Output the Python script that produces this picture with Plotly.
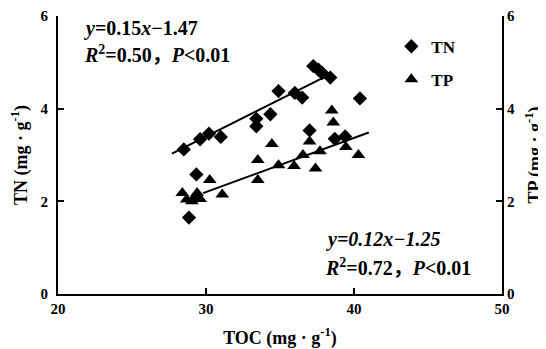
import plotly.graph_objects as go
import numpy as np

# TN (left axis) data
tn_x = [28.5, 29.6, 30.2, 31.0, 33.4, 33.4, 34.35, 34.9, 36.0, 36.5, 37.25, 37.6, 37.85, 38.4, 40.4, 37.0, 38.7, 39.4, 29.35, 28.85]
tn_y = [3.12, 3.34, 3.46, 3.39, 3.78, 3.62, 3.88, 4.38, 4.34, 4.24, 4.92, 4.84, 4.77, 4.67, 4.22, 3.53, 3.35, 3.40, 2.58, 1.65]

# TP (right axis) data
tp_x = [28.4, 28.7, 29.05, 29.2, 29.4, 29.6, 30.25, 31.1, 33.5, 33.5, 34.45, 34.9, 35.95, 36.55, 37.0, 37.4, 37.7, 38.5, 38.6, 39.45, 40.3]
tp_y = [2.18, 2.04, 2.00, 2.08, 2.18, 2.05, 2.46, 2.15, 2.89, 2.46, 3.24, 2.78, 2.76, 3.00, 3.29, 2.71, 3.08, 3.96, 3.70, 3.17, 3.00]

# fitted lines as drawn (slope, intercept, x-range)
tn_fit = dict(slope=0.160, intercept=-1.40, x=[27.7, 38.1])
tp_fit = dict(slope=0.117, intercept=-1.31, x=[29.8, 41.0])

x_ticks = [20, 30, 40, 50]
y_ticks = [0, 2, 4, 6]

FONT = "Liberation Serif, Noto Sans CJK SC"

# page has an 8px body margin; figure is sized to fit the window
OFF = 8
W, H = 546 - OFF, 349 - OFF
PL, PR, PT, PB = 57.5 - OFF, 501.7 - OFF, 16 - OFF, 294.3 - OFF
PW, PH = PR - PL, PB - PT

def px(xp):
    return (xp - OFF - PL) / PW

def py(yp):
    return 1 - (yp - OFF - PT) / PH

fig = go.Figure()

def fit_line(f):
    xs = np.array(f["x"])
    return xs, f["slope"] * xs + f["intercept"]

fx, fy = fit_line(tn_fit)
fig.add_trace(go.Scatter(x=fx, y=fy, mode="lines", line=dict(color="black", width=2),
                         showlegend=False, hoverinfo="skip"))
fx2, fy2 = fit_line(tp_fit)
fig.add_trace(go.Scatter(x=fx2, y=fy2, mode="lines", line=dict(color="black", width=2),
                         showlegend=False, hoverinfo="skip", yaxis="y2"))

fig.add_trace(go.Scatter(x=tn_x, y=tn_y, mode="markers", name="<b>TN</b>", legendgroup="a",
                         marker=dict(symbol="diamond", size=11, color="black")))
fig.add_trace(go.Scatter(x=tp_x, y=tp_y, mode="markers", name="<b>TP</b>", legendgroup="b",
                         marker=dict(symbol="triangle-up", size=12, color="black"), yaxis="y2"))

axis_common = dict(showgrid=False, zeroline=False, showline=True, linecolor="black", linewidth=2,
                   ticks="inside", ticklen=6, tickwidth=1.5, tickcolor="black", automargin=False,
                   ticklabeloverflow="allow",
                   tickfont=dict(family=FONT, size=15, color="black"))

def bold(vals):
    return [f"<b>{v}</b>" for v in vals]

title_font = dict(family=FONT, size=18, color="black")

fig.update_layout(
    width=W, height=H,
    margin=dict(l=PL, r=W - PR, t=PT, b=H - PB, pad=0),
    paper_bgcolor="white", plot_bgcolor="white",
    font=dict(family=FONT, color="black"),
    xaxis=dict(range=[20, 50], tickvals=x_ticks, ticktext=bold(x_ticks), **axis_common,
               title=dict(text="<b>TOC (mg · g<sup>-1</sup>)</b>", font=title_font)),
    yaxis=dict(range=[0, 6], tickvals=y_ticks, ticktext=bold(y_ticks), ticklabelstandoff=5, **axis_common,
               title=dict(text="<b>TN (mg · g<sup>-1</sup>)</b>", font=title_font)),
    yaxis2=dict(range=[0, 6], tickvals=y_ticks, ticktext=bold(y_ticks), overlaying="y", side="right", **axis_common,
                title=dict(text="<b>TP (mg · g<sup>-1</sup>)</b>", font=title_font)),
    legend=dict(x=px(391), y=py(28.7), xanchor="left", yanchor="top", bgcolor="rgba(0,0,0,0)",
                font=dict(family=FONT, size=17, color="black"), tracegroupgap=8),
    showlegend=True,
)

ann_font = dict(family=FONT, size=20, color="black")
fig.add_annotation(xref="paper", yref="paper", x=px(82), y=py(29), xanchor="left", yanchor="middle",
                   text="<b><i>y</i>=0.15<i>x</i>−1.47</b>", showarrow=False, font=ann_font)
fig.add_annotation(xref="paper", yref="paper", x=px(82), y=py(54), xanchor="left", yanchor="middle",
                   text="<b><i>R</i><sup>2</sup>=0.50，<i>P</i><0.01</b>", showarrow=False, font=ann_font)
fig.add_annotation(xref="paper", yref="paper", x=px(324), y=py(240), xanchor="left", yanchor="middle",
                   text="<b><i>y=0.12x−1.25</i></b>", showarrow=False, font=ann_font)
fig.add_annotation(xref="paper", yref="paper", x=px(323), y=py(267), xanchor="left", yanchor="middle",
                   text="<b><i>R</i><sup>2</sup>=0.72，<i>P</i><0.01</b>", showarrow=False, font=ann_font)

fig.write_html("out.html")
